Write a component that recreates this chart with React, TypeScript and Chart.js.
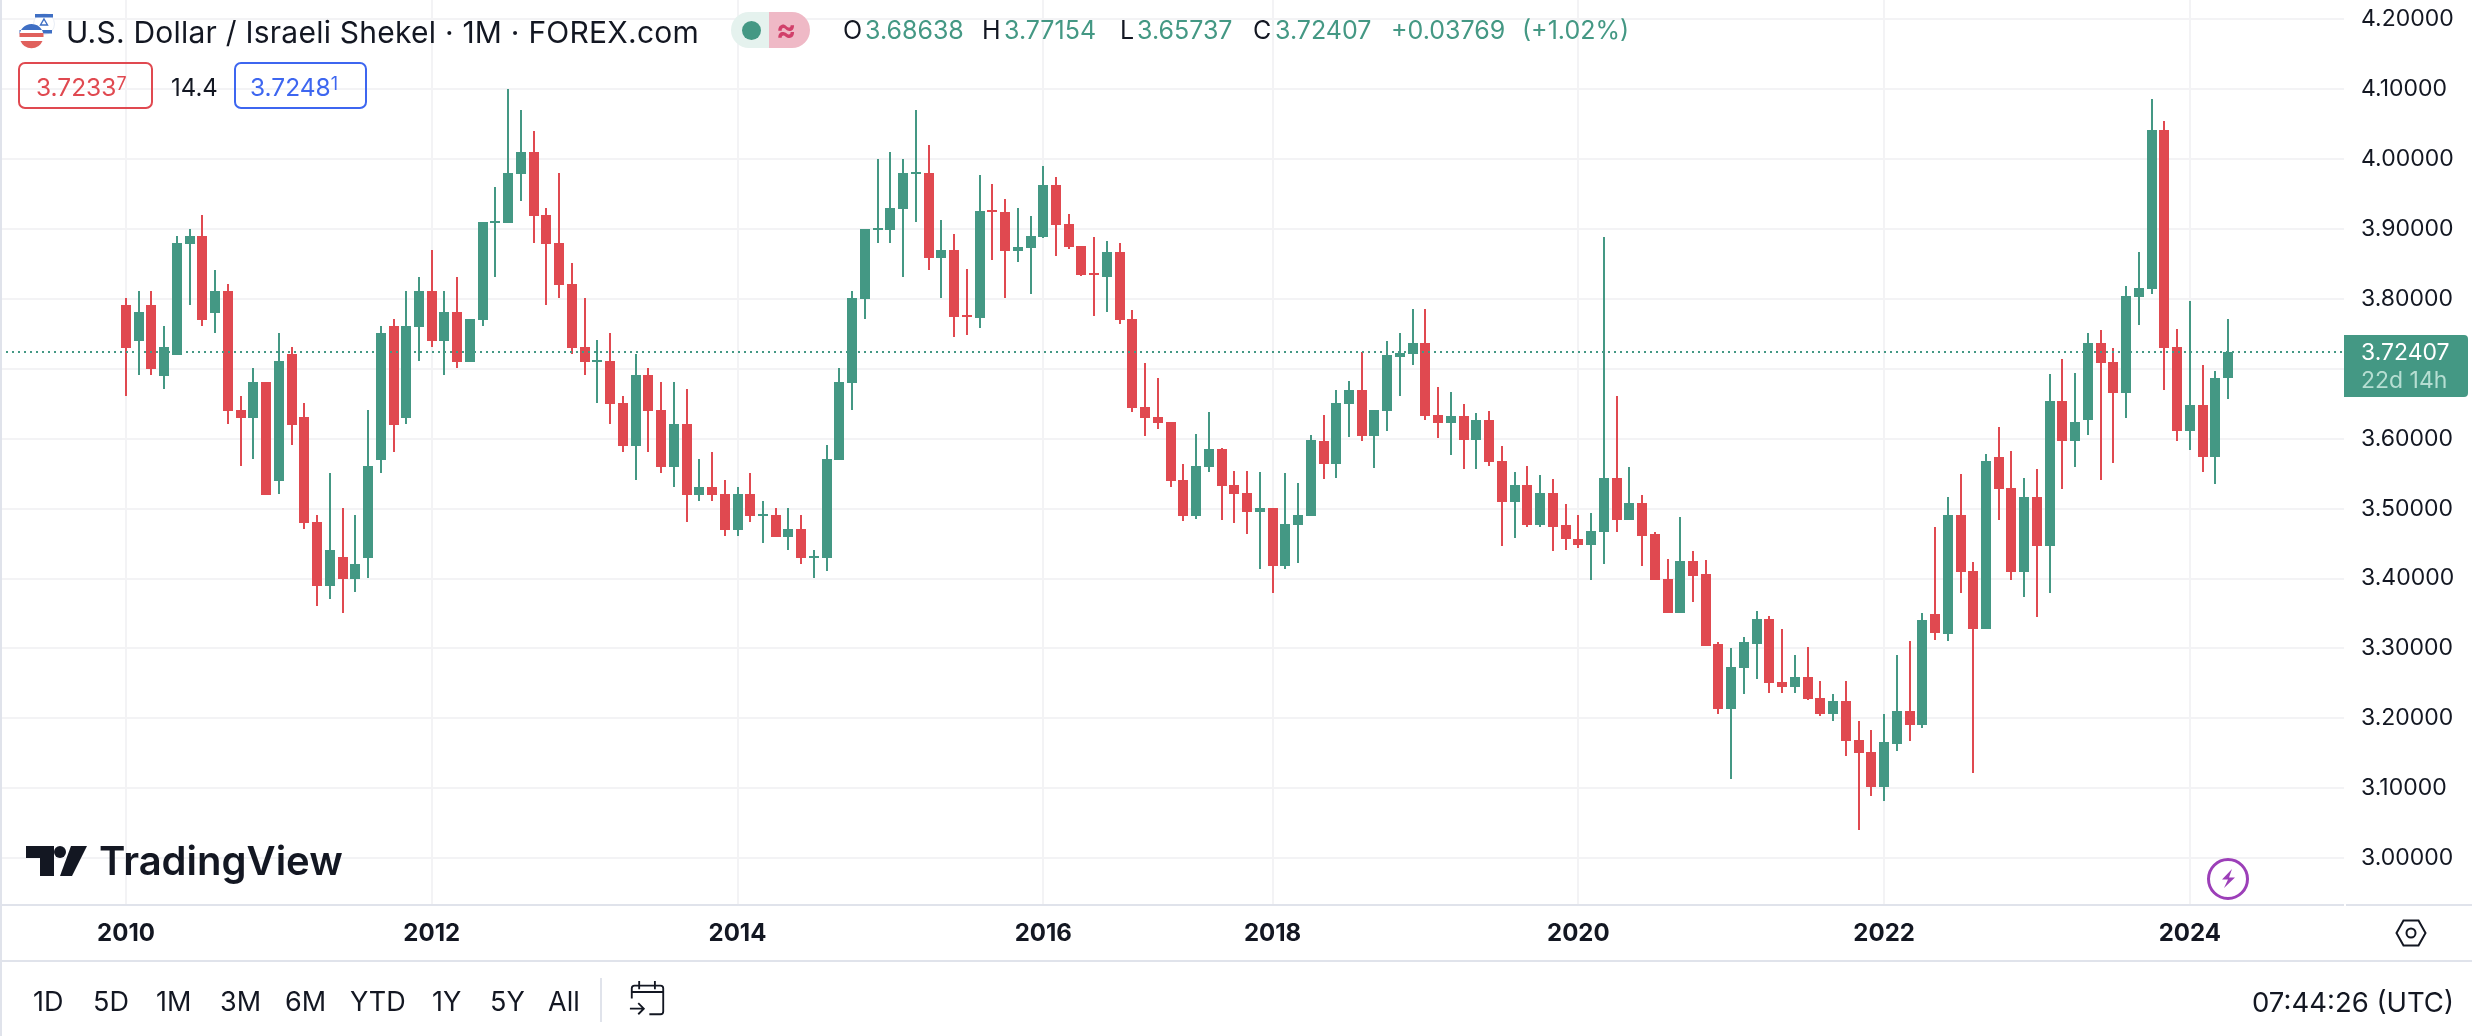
import React, { useEffect, useRef } from "react";
import { Chart, registerables } from "chart.js";

Chart.register(...registerables);

const opens = [
  3.791,3.739,3.791,3.689,3.719,3.878,3.890,3.779,3.811,3.641,
  3.629,3.681,3.539,3.721,3.631,3.481,3.389,3.431,3.399,3.429,
  3.569,3.761,3.629,3.759,3.811,3.739,3.781,3.709,3.769,3.908,
  3.908,3.979,4.010,3.920,3.880,3.821,3.731,3.710,3.711,3.651,
  3.590,3.691,3.641,3.560,3.621,3.520,3.531,3.521,3.470,3.521,
  3.490,3.491,3.460,3.471,3.430,3.430,3.570,3.680,3.800,3.898,
  3.898,3.928,3.979,3.980,3.859,3.870,3.777,3.773,3.927,3.924,
  3.869,3.873,3.889,3.963,3.907,3.876,3.837,3.831,3.867,3.771,
  3.645,3.631,3.624,3.541,3.490,3.560,3.585,3.534,3.522,3.495,
  3.501,3.418,3.477,3.490,3.597,3.564,3.650,3.670,3.604,3.640,
  3.717,3.721,3.737,3.634,3.623,3.633,3.598,3.626,3.568,3.510,
  3.534,3.476,3.523,3.476,3.457,3.448,3.467,3.544,3.484,3.508,
  3.463,3.400,3.350,3.425,3.406,3.306,3.213,3.272,3.307,3.342,
  3.252,3.245,3.259,3.229,3.207,3.225,3.169,3.152,3.102,3.164,
  3.210,3.191,3.349,3.321,3.491,3.411,3.328,3.574,3.530,3.410,
  3.516,3.447,3.654,3.597,3.627,3.737,3.710,3.665,3.803,3.814,
  4.041,3.731,3.611,3.648,3.574,3.68638,
];
const closes = [
  3.729,3.781,3.699,3.731,3.880,3.890,3.769,3.811,3.639,3.629,
  3.681,3.519,3.711,3.619,3.479,3.389,3.441,3.399,3.421,3.561,
  3.751,3.619,3.761,3.811,3.739,3.781,3.709,3.771,3.910,3.911,
  3.980,4.010,3.918,3.878,3.820,3.730,3.710,3.713,3.650,3.590,
  3.691,3.640,3.560,3.621,3.520,3.531,3.520,3.470,3.521,3.490,
  3.492,3.460,3.471,3.430,3.432,3.571,3.681,3.801,3.900,3.901,
  3.930,3.980,3.981,3.859,3.870,3.774,3.774,3.926,3.924,3.869,
  3.874,3.890,3.963,3.906,3.874,3.834,3.834,3.867,3.770,3.644,
  3.630,3.623,3.540,3.490,3.561,3.585,3.532,3.521,3.495,3.501,
  3.418,3.478,3.491,3.598,3.564,3.651,3.670,3.604,3.641,3.719,
  3.723,3.737,3.633,3.623,3.633,3.598,3.626,3.567,3.510,3.534,
  3.476,3.523,3.474,3.456,3.448,3.468,3.544,3.484,3.508,3.461,
  3.398,3.350,3.425,3.404,3.304,3.213,3.273,3.309,3.342,3.250,
  3.245,3.259,3.228,3.207,3.225,3.167,3.150,3.102,3.166,3.210,
  3.191,3.340,3.322,3.491,3.410,3.328,3.568,3.528,3.410,3.516,
  3.447,3.654,3.597,3.624,3.737,3.708,3.665,3.804,3.816,4.041,
  3.730,3.611,3.648,3.574,3.687,3.72407,
];
const highs = [
  3.801,3.811,3.811,3.761,3.890,3.900,3.920,3.841,3.821,3.661,
  3.701,3.681,3.751,3.731,3.651,3.491,3.551,3.501,3.491,3.641,
  3.761,3.771,3.811,3.831,3.870,3.811,3.831,3.771,3.910,3.960,
  4.100,4.070,4.040,3.930,3.980,3.851,3.801,3.741,3.751,3.661,
  3.721,3.701,3.681,3.681,3.671,3.571,3.581,3.541,3.531,3.551,
  3.511,3.501,3.501,3.491,3.441,3.591,3.701,3.811,3.900,4.000,
  4.010,4.000,4.070,4.020,3.913,3.893,3.843,3.977,3.964,3.943,
  3.930,3.919,3.990,3.974,3.921,3.876,3.889,3.883,3.880,3.784,
  3.708,3.687,3.624,3.564,3.607,3.638,3.587,3.554,3.554,3.553,
  3.501,3.551,3.537,3.605,3.634,3.670,3.683,3.724,3.641,3.739,
  3.751,3.786,3.786,3.674,3.667,3.650,3.637,3.640,3.590,3.553,
  3.561,3.548,3.543,3.506,3.491,3.493,3.888,3.661,3.560,3.520,
  3.467,3.428,3.488,3.440,3.426,3.309,3.301,3.316,3.353,3.346,
  3.328,3.290,3.302,3.253,3.235,3.253,3.196,3.183,3.207,3.290,
  3.310,3.350,3.473,3.516,3.550,3.423,3.578,3.616,3.583,3.544,
  3.557,3.693,3.714,3.694,3.751,3.755,3.730,3.818,3.867,4.086,
  4.054,3.757,3.797,3.705,3.697,3.77154,
];
const lows = [
  3.661,3.691,3.691,3.671,3.719,3.791,3.761,3.751,3.621,3.561,
  3.571,3.519,3.521,3.591,3.471,3.361,3.371,3.351,3.381,3.401,
  3.551,3.581,3.621,3.711,3.731,3.691,3.701,3.709,3.761,3.831,
  3.908,3.940,3.880,3.791,3.801,3.721,3.691,3.651,3.621,3.581,
  3.541,3.581,3.551,3.531,3.481,3.511,3.511,3.461,3.461,3.481,
  3.451,3.460,3.441,3.421,3.401,3.411,3.570,3.641,3.771,3.880,
  3.880,3.831,3.910,3.841,3.801,3.746,3.748,3.758,3.856,3.801,
  3.853,3.807,3.887,3.861,3.871,3.833,3.776,3.781,3.764,3.638,
  3.604,3.614,3.531,3.482,3.485,3.553,3.484,3.480,3.464,3.414,
  3.380,3.414,3.422,3.490,3.543,3.544,3.603,3.596,3.558,3.611,
  3.661,3.706,3.626,3.601,3.577,3.556,3.557,3.561,3.447,3.458,
  3.473,3.474,3.440,3.441,3.444,3.398,3.421,3.467,3.484,3.418,
  3.398,3.350,3.350,3.367,3.304,3.207,3.113,3.235,3.256,3.236,
  3.237,3.236,3.226,3.203,3.196,3.146,3.040,3.089,3.082,3.153,
  3.167,3.186,3.312,3.311,3.380,3.122,3.328,3.483,3.398,3.373,
  3.345,3.380,3.528,3.560,3.605,3.541,3.565,3.630,3.763,3.807,
  3.670,3.597,3.584,3.552,3.535,3.65737,
];

const yearTickBars = [0, 24, 48, 72, 90, 114, 138, 162];
const yearTickLabels = ["2010", "2012", "2014", "2016", "2018", "2020", "2022", "2024"];
const priceTicks = [3.0, 3.1, 3.2, 3.3, 3.4, 3.5, 3.6, 3.7, 3.8, 3.9, 4.0, 4.1, 4.2];
const lastPrice = 3.72407;
const barRange = [-9.89, 174.1];
const priceRange = [2.9332, 4.2272];

const GREEN = "#449884";
const RED = "#e04950";
const INK = "#131722";
const GRID = "#f3f3f5";
const LINE = "#e0e3eb";
const FONT = "Inter, 'Noto Sans', sans-serif";

const snapBars = {
  id: "snapBars",
  beforeDatasetsDraw(chart: any) {
    chart.data.datasets.forEach((d: any, i: number) => {
      if (d.type === "line") return;
      chart.getDatasetMeta(i).data.forEach((el: any) => {
        el.x = Math.round(el.x);
        el.y = Math.round(el.y);
        el.base = Math.round(el.base);
      });
    });
  },
};

function T(props: { x: number; cy: number; size: number; color?: string; weight?: number; right?: number; spacing?: number; children: any }) {
  const { x, cy, size, color = INK, weight = 400, right, spacing = 0, children } = props;
  const lh = Math.round(size * 1.4);
  return (
    <div
      style={{
        position: "absolute",
        left: right === undefined ? x : undefined,
        right,
        top: cy - lh / 2,
        lineHeight: lh + "px",
        fontSize: size,
        fontFamily: FONT,
        fontWeight: weight,
        color,
        whiteSpace: "nowrap",
        letterSpacing: spacing,
      }}
    >
      {children}
    </div>
  );
}

const ranges: [string, number][] = [
  ["1D", 33], ["5D", 93], ["1M", 156], ["3M", 220], ["6M", 285], ["YTD", 350], ["1Y", 432], ["5Y", 490], ["All", 548],
];
const ohlc: [string, number, string][] = [
  ["O", 843, INK], ["3.68638", 865, GREEN], ["H", 982, INK], ["3.77154", 1004, GREEN], ["L", 1120, INK], ["3.65737", 1137, GREEN],
  ["C", 1253, INK], ["3.72407", 1275, GREEN], ["+0.03769", 1391, GREEN], ["(+1.02%)", 1522, GREEN],
];

export default function App() {
  const ref = useRef<HTMLCanvasElement>(null);
  useEffect(() => {
    const bars = opens.map((_, i) => i);
    const colors = bars.map((i) => (closes[i] >= opens[i] ? GREEN : RED));
    const chart = new Chart(ref.current as HTMLCanvasElement, {
      type: "bar",
      data: {
        datasets: [
          {
            type: "line",
            data: barRange.map((x) => ({ x, y: lastPrice })),
            borderColor: GREEN,
            borderWidth: 2,
            borderDash: [2, 4],
            pointRadius: 0,
            order: 0,
          },
          {
            type: "bar",
            data: bars.map((i) => ({ x: i, y: [opens[i], closes[i]] })),
            backgroundColor: colors,
            barThickness: 10,
            grouped: false,
            borderWidth: 0,
            inflateAmount: 0,
            order: 1,
          },
          {
            type: "bar",
            data: bars.map((i) => ({ x: i, y: [lows[i], highs[i]] })),
            backgroundColor: colors,
            barThickness: 2,
            grouped: false,
            borderWidth: 0,
            inflateAmount: 0,
            order: 2,
          },
        ],
      } as any,
      options: {
        animation: false,
        responsive: false,
        events: [],
        layout: { autoPadding: false, padding: { left: 0, top: 0, right: 0, bottom: 75 } },
        plugins: { legend: { display: false }, tooltip: { enabled: false } },
        scales: {
          x: {
            type: "linear",
            min: barRange[0],
            max: barRange[1],
            offset: false,
            afterBuildTicks: (s: any) => {
              s.ticks = yearTickBars.map((value) => ({ value }));
            },
            afterFit: (s: any) => {
              s.height = 56;
              s.paddingLeft = 0;
              s.paddingRight = 0;
            },
            grid: { color: GRID, lineWidth: 2, drawTicks: false, offset: false },
            border: { display: false },
            ticks: {
              autoSkip: false,
              maxRotation: 0,
              padding: 14,
              color: INK,
              font: { family: FONT, size: 24, weight: "700" },
              callback: (v: any) => yearTickLabels[yearTickBars.indexOf(Number(v))],
            },
          },
          y: {
            type: "linear",
            position: "right",
            min: priceRange[0],
            max: priceRange[1],
            afterBuildTicks: (s: any) => {
              s.ticks = priceTicks.map((value) => ({ value }));
            },
            afterFit: (s: any) => {
              s.width = 128;
              s.paddingTop = 0;
              s.paddingBottom = 0;
            },
            grid: { color: GRID, lineWidth: 2, drawTicks: false },
            border: { display: false },
            ticks: {
              padding: 17,
              color: INK,
              font: { family: FONT, size: 23 },
              callback: (v: any) => Number(v).toFixed(5),
            },
          },
        },
      } as any,
      plugins: [snapBars],
    });
    return () => chart.destroy();
  }, []);

  return (
    <div style={{ position: "fixed", left: 0, top: 0, width: 2472, height: 1036, background: "#fff", overflow: "hidden" }}>
      <canvas ref={ref} width={2472} height={1036} style={{ display: "block", width: 2472, height: 1036 }} />

      {/* frame and separators */}
      <div style={{ position: "absolute", left: 0, top: 0, width: 2, height: 1036, background: LINE }} />
      <div style={{ position: "absolute", left: 0, top: 904, width: 2344, height: 2, background: LINE }} />
      <div style={{ position: "absolute", left: 2346, top: 904, width: 126, height: 2, background: LINE }} />
      <div style={{ position: "absolute", left: 0, top: 960, width: 2472, height: 2, background: LINE }} />

      {/* title */}
      <svg style={{ position: "absolute", left: 18, top: 12 }} width={40} height={38} viewBox="18 12 40 38">
        <circle cx="44" cy="24" r="10.5" fill="#fff" stroke="#e8edf5" />
        <rect x="35" y="14" width="18" height="3.5" fill="#3f6fc4" />
        <rect x="36" y="30" width="16" height="3.5" fill="#3f6fc4" />
        <path d="M44 19 l3.5 6 h-7 z" fill="none" stroke="#3f6fc4" strokeWidth="1.4" />
        <circle cx="31.5" cy="36" r="12" fill="#fff" />
        <path d="M19.5 36 a12 12 0 0 1 12 -12 h0 a12 12 0 0 1 10.5 6 H19.5 z" fill="#3f6fc4" />
        <rect x="19.5" y="33" width="24" height="4" fill="#e0605c" />
        <path d="M20.5 41 h22 a12 12 0 0 1 -22 0 z" fill="#e0605c" />
      </svg>
      <T x={66} cy={32} size={30} spacing={0.23}>U.S. Dollar / Israeli Shekel · 1M · FOREX.com</T>

      {/* status pill */}
      <div style={{ position: "absolute", left: 731, top: 12, width: 38, height: 36, background: "#e5f2ee", borderRadius: "18px 0 0 18px" }} />
      <div style={{ position: "absolute", left: 742, top: 20.5, width: 19, height: 19, background: GREEN, borderRadius: 10 }} />
      <div style={{ position: "absolute", left: 769, top: 12, width: 41, height: 36, background: "#efb9c6", borderRadius: "0 18px 18px 0" }} />
      <T x={776} cy={29} size={30} color="#d1406a" weight={700}>≈</T>

      {/* OHLC */}
      {ohlc.map(([s, x, c]) => (
        <T key={s + x} x={x} cy={30} size={25} color={c}>{s}</T>
      ))}

      {/* bid / ask */}
      <div style={{ position: "absolute", left: 18, top: 62, width: 135, height: 47, boxSizing: "border-box", border: `2px solid ${RED}`, borderRadius: 7 }} />
      <T x={36} cy={87} size={24.5} color={RED}>3.7233<sup style={{ fontSize: 18, verticalAlign: "6px", lineHeight: 0 }}>7</sup></T>
      <T x={171} cy={88} size={24}>14.4</T>
      <div style={{ position: "absolute", left: 234, top: 62, width: 133, height: 47, boxSizing: "border-box", border: "2px solid #3d66f0", borderRadius: 7 }} />
      <T x={250} cy={87} size={24.5} color="#3d66f0">3.7248<sup style={{ fontSize: 18, verticalAlign: "6px", lineHeight: 0 }}>1</sup></T>

      {/* last price label */}
      <div style={{ position: "absolute", left: 2344, top: 335, width: 124, height: 62, background: GREEN, borderRadius: "0 4px 4px 0" }} />
      <T x={2361} cy={352} size={23} color="#fff">3.72407</T>
      <T x={2361} cy={380} size={23} color="#b6ded2">22d 14h</T>

      {/* logo */}
      <svg style={{ position: "absolute", left: 26, top: 846 }} width={62} height={30} viewBox="26 846 62 30">
        <path d="M26 846 H54 V876 H40 V858 H26 Z" fill={INK} />
        <circle cx="60" cy="852" r="6" fill={INK} />
        <path d="M71 846 H87 L72 876 H60 Z" fill={INK} />
      </svg>
      <T x={99} cy={861} size={40} weight={600}>TradingView</T>

      {/* flash icon */}
      <svg style={{ position: "absolute", left: 2204, top: 855 }} width={48} height={48} viewBox="0 0 48 48">
        <circle cx="24" cy="24" r="19.5" fill="none" stroke="#9c3fb8" strokeWidth="3" />
        <path d="M28 14 L18 24.5 H24 L20 33 L31 22.5 H25 Z" fill="#9c3fb8" />
      </svg>

      {/* settings icon */}
      <svg style={{ position: "absolute", left: 2394, top: 917 }} width={34} height={32} viewBox="0 0 34 32">
        <path d="M2.5 16 L9.5 3.5 H24.5 L31.5 16 L24.5 28.5 H9.5 Z" fill="none" stroke={INK} strokeWidth="2" />
        <circle cx="17" cy="16" r="4.5" fill="none" stroke={INK} strokeWidth="2" />
      </svg>

      {/* range bar */}
      {ranges.map(([s, x]) => (
        <T key={s} x={x} cy={1002} size={27}>{s}</T>
      ))}
      <div style={{ position: "absolute", left: 600, top: 978, width: 2, height: 44, background: LINE }} />
      <svg style={{ position: "absolute", left: 629, top: 980 }} width={37} height={37} viewBox="0 0 40 40">
        <path d="M3 20 V9 a3 3 0 0 1 3 -3 H34 a3 3 0 0 1 3 3 V34 a3 3 0 0 1 -3 3 H22 M3 13 H37 M11 1 V10 M28 1 V10 M1 31 H16 M10 25 L16 31 L10 37" fill="none" stroke={INK} strokeWidth="2" />
      </svg>
      <T x={0} right={18} cy={1002} size={27.5}>07:44:26 (UTC)</T>
    </div>
  );
}
